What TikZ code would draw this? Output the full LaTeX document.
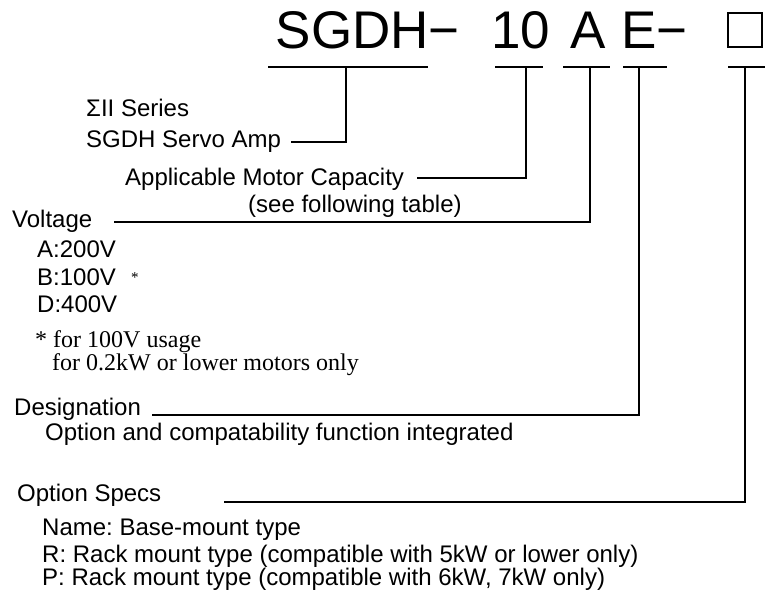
\documentclass[tikz,border=0pt]{standalone}
\usepackage{fontspec}
\setmainfont{Liberation Sans}
\newfontfamily\notefont{Liberation Serif}
\usetikzlibrary{positioning}
\frenchspacing

\begin{document}
\begin{tikzpicture}[x=1pt, y=-1pt,
    code/.style={anchor=base west, inner sep=0pt, font=\fontsize{53}{60}\selectfont},
    desc/.style={anchor=base west, inner sep=0pt, font=\fontsize{24}{26}\selectfont},
    note/.style={anchor=base west, inner sep=0pt, font=\notefont\fontsize{24}{26}\selectfont},
    lead/.style={line width=2pt},
]
\useasboundingbox (0,0) rectangle (765,600);

% model code
\node[code] (sgdh)  at (275.5,48) {SGDH−};
\node[code] (cap)   at (491,48)   {10};
\node[code] (volt)  at (570,48)   {A};
\node[code] (desig) at (621,48)   {E−};
\node[draw, line width=2.6pt, minimum width=34pt, minimum height=34pt, inner sep=0pt] (opt) at (745,30) {};

% underlines and their ticks
\foreach \l/\t/\r/\n in {268/346/428/tk1, 495/526/543/tk2, 563/590/610/tk3, 623/639/667/tk4, 728/745/765/tk5} {
  \coordinate (\n) at (\t,67);
  \draw[lead] (\l,67) -- (\r,67);
}

% descriptions
\node[desc] (series) at (86,116)  {ΣII Series};
\node[desc] (amp)    at (86,147)  {SGDH Servo Amp};
\node[desc] (motor)  at (125,185) {Applicable Motor Capacity};
\node[desc] (table)  at (248,212) {(see following table)};
\node[desc] (voltage) at (12,227) {Voltage};
\node[desc] (va)     at (37,257)  {A:200V};
\node[desc] (vb)     at (37,285)  {B:100V};
\node[desc] (vd)     at (37,312)  {D:400V};
\node[anchor=base west, inner sep=0pt, font=\notefont\fontsize{15}{16}\selectfont] (star) at (131,282) {*};
\node[note] (usage)  at (35,347)  {* for 100V usage};
\node[note] (motors) at (52,370)  {for 0.2kW or lower motors only};
\node[desc] (design) at (14,415)  {Designation};
\node[desc] (integ)  at (45,440)  {Option and compatability function integrated};
\node[desc] (optspec) at (17,501) {Option Specs};
\node[desc] (base)   at (42,535)  {Name: Base-mount type};
\node[desc] (rackr)  at (42,562)  {R: Rack mount type (compatible with 5kW or lower only)};
\node[desc] (rackp)  at (42,585)  {P: Rack mount type (compatible with 6kW, 7kW only)};

% leaders
\draw[lead] ([xshift=10pt,yshift=5pt]amp.base east) -| (tk1);
\draw[lead] ([xshift=13pt,yshift=7pt]motor.base east) -| (tk2);
\draw[lead] ([xshift=22pt,yshift=5pt]voltage.base east) -| (tk3);
\draw[lead] ([xshift=11pt,yshift=0pt]design.base east) -| (tk4);
\draw[lead] ([xshift=63pt,yshift=-1pt]optspec.base east) -| (tk5);

\end{tikzpicture}
\end{document}
